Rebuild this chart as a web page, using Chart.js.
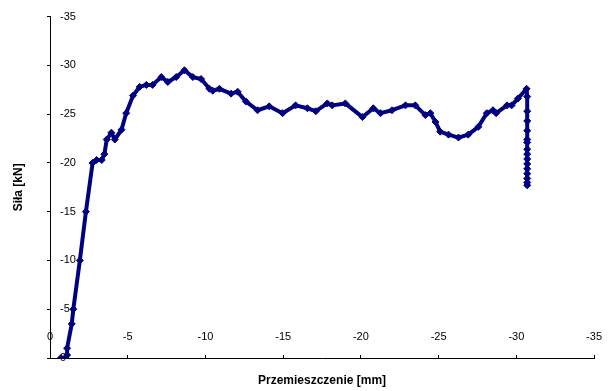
<!DOCTYPE html>
<html>
<head>
<meta charset="utf-8">
<script src="https://cdn.jsdelivr.net/npm/chart.js@4"></script>
<style>
  body { margin: 0; background: #fff; }
</style>
</head>
<body>
<canvas id="wykres" width="616" height="391"></canvas>
<script>
const przemieszczenie = [
  -0.7, -1.0, -1.1, -1.1, -1.4, -1.5, -1.92, -2.31, -2.74, -3.0, -3.33, -3.5, -3.65,
  -3.95, -4.17, -4.6, -4.9, -5.34, -5.77, -6.2, -6.6, -7.16, -7.58, -8.12, -8.65,
  -9.19, -9.72, -10.26, -10.47, -10.9, -11.65, -12.07, -12.6, -13.35, -14.1, -14.96,
  -15.8, -16.56, -17.1, -17.84, -18.16, -19.0, -20.1, -20.8, -21.26, -22.0, -22.87,
  -23.5, -24.15, -24.47, -24.8, -25.1, -25.64, -26.28, -26.9, -27.56, -28.1, -28.5,
  -28.7, -29.4, -29.7, -30.1, -30.66,
  -30.7, -30.7, -30.7, -30.7, -30.7, -30.7, -30.7, -30.7, -30.7, -30.7, -30.7,
  -30.7, -30.7, -30.7, -30.7
];
const sila = [
  0, 0, -0.3, -1.0, -3.5, -5, -10, -15, -20, -20.3, -20.3, -20.9, -22.4,
  -23.1, -22.4, -23.4, -25.1, -26.9, -27.8, -28.0, -28.0, -28.8, -28.3, -28.8, -29.5,
  -28.8, -28.6, -27.6, -27.4, -27.6, -27.1, -27.3, -26.3, -25.4, -25.8, -25.1,
  -25.9, -25.6, -25.3, -26.1, -25.9, -26.1, -24.7, -25.6, -25.1, -25.4, -25.9,
  -25.9, -24.9, -25.1, -24.2, -23.2, -22.9, -22.6, -22.9, -23.7, -25.1, -25.4,
  -25.1, -25.9, -25.9, -26.6, -27.6,
  -26.8, -25.3, -24.3, -23.3, -22.4, -22.1, -21.4, -20.9, -20.4, -19.9, -19.4,
  -18.9, -18.4, -18.0, -17.7
];
const osX = { min: -35, max: 0, krok: 5, tytul: "Przemieszczenie [mm]" };
const osY = { min: -35, max: 0, krok: 5, tytul: "Siła [kN]" };

const punkty = przemieszczenie.map((x, i) => ({ x: x, y: sila[i] }));
const czcionka = "'Liberation Sans', Arial, sans-serif";

new Chart(document.getElementById("wykres").getContext("2d"), {
  type: "line",
  data: {
    datasets: [{
      data: punkty,
      borderColor: "#000080",
      backgroundColor: "#000080",
      borderWidth: 4,
      borderJoinStyle: "round",
      borderCapStyle: "round",
      pointStyle: "rectRot",
      pointRadius: 3.5,
      pointBorderWidth: 1,
      tension: 0
    }]
  },
  options: {
    responsive: false,
    animation: false,
    layout: { padding: { top: 12, right: 20, left: 0, bottom: 0 } },
    plugins: { legend: { display: false }, tooltip: { enabled: false } },
    scales: {
      x: {
        type: "linear",
        min: osX.min, max: osX.max, reverse: true,
        afterFit: s => { s.height = 33; },
        border: { color: "#000", width: 1 },
        grid: { drawOnChartArea: false, tickLength: -3, color: "#000" },
        ticks: {
          stepSize: osX.krok, mirror: true, padding: 14, maxRotation: 0,
          color: "#000", font: { family: czcionka, size: 11 }
        },
        title: {
          display: true, text: osX.tytul, color: "#000",
          font: { family: czcionka, size: 12, weight: "bold" },
          padding: { top: 0, bottom: 3 }
        }
      },
      y: {
        type: "linear",
        min: osY.min, max: osY.max, reverse: true,
        afterFit: s => { s.width = 50; },
        border: { color: "#000", width: 1 },
        grid: { drawOnChartArea: false, tickLength: 3, color: "#000" },
        ticks: {
          stepSize: osY.krok, mirror: true, padding: 10,
          color: "#000", font: { family: czcionka, size: 11 }
        },
        title: {
          display: true, text: osY.tytul, color: "#000",
          font: { family: czcionka, size: 12, weight: "bold" },
          padding: { top: 11, bottom: 0 }
        }
      }
    }
  }
});
</script>
</body>
</html>
